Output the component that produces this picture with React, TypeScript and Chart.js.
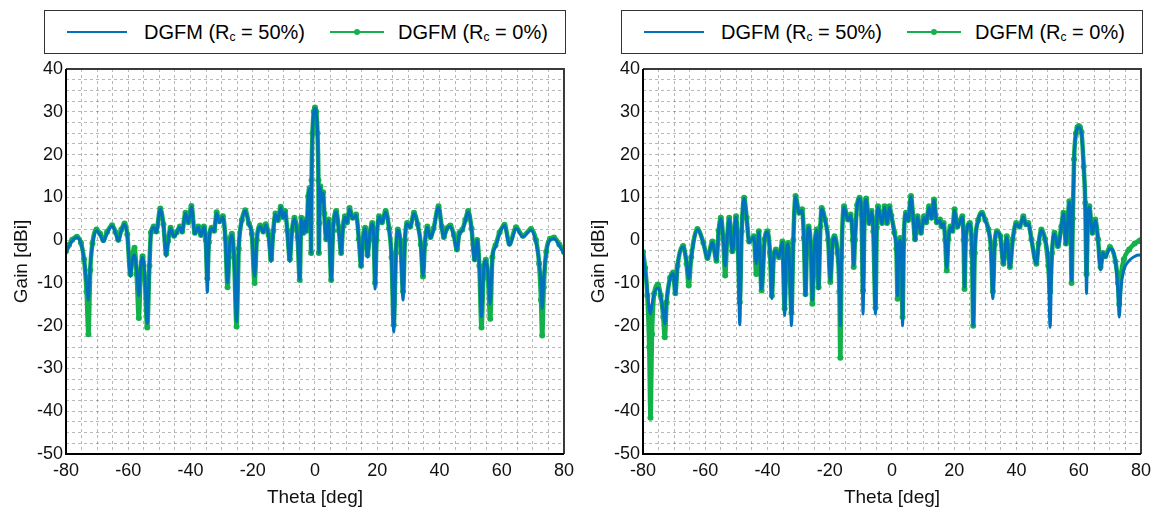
import React, { useEffect, useRef } from "react";
import { Chart, registerables } from "chart.js";

Chart.register(...registerables);

// ---- Broadside pattern (left panel) ----
const thetaBroad = [
  -80, -79, -78, -76.5, -75.2, -74.2, -73.4, -72.8, -72.2, -71.5,
  -70.2, -69, -68, -66.8, -65.2, -64, -63.2, -62.2, -61.2, -60.3,
  -59.3, -58.6, -58, -57.3, -56.6, -56, -55.4, -54.7, -53.9, -53.2,
  -52.7, -51.8, -51, -49.7, -48.7, -47.8, -47.2, -46.4, -45.3, -44.5,
  -43.4, -42.7, -41.6, -40.7, -39.7, -38.6, -37.5, -36.6, -35.7, -35.1,
  -34.6, -34.1, -33.2, -32.4, -31.6, -30.7, -29.6, -28.8, -28.1, -27.4,
  -26.7, -26, -25.2, -24.5, -23.5, -22.4, -21.2, -20.3, -19.4, -18.7,
  -17.6, -16.6, -15.8, -14.9, -14.1, -13.4, -12.7, -11.9, -11, -10.3,
  -9.6, -8.9, -8.1, -7.4, -6.6, -5.6, -4.9, -4.4, -3.7, -3.2,
  -2.7, -2.2, -1.7, -1.4, -1.25, -1.1, -0.8, -0.4, 0, 0.4,
  0.8, 1.1, 1.25, 1.4, 1.7, 2.2, 2.6, 3, 3.6, 4.4,
  5.2, 5.8, 6.8, 7.7, 8.4, 9, 9.6, 10.3, 11.1, 12.1,
  13.2, 14.1, 14.8, 15.4, 16.1, 16.9, 17.6, 18.4, 18.9, 19.3,
  19.8, 20.6, 21.5, 22.7, 23.8, 24.6, 25.3, 26, 26.6, 27.5,
  28.3, 28.9, 29.6, 30.6, 31.8, 33, 34, 34.7, 35.3, 36.1,
  37.1, 38.1, 39.7, 40.7, 41.4, 42.3, 43.5, 44.6, 45.6, 46.4,
  47.3, 48.3, 49.2, 50.3, 51.3, 52.1, 52.8, 53.5, 54.2, 54.9,
  55.6, 56.3, 57, 58, 59.3, 60.9, 62.5, 64.6, 66.8, 69.4,
  71, 72, 72.6, 73, 73.5, 74.3, 75.5, 76.8, 78.5, 80,
];
const gainBroadRc50 = [
  -3.0, -1.4, -0.2, 0.6, -0.8, -4.5, -10, -14, -6, -1,
  2.2, 1.2, -0.3, 1.6, 3.3, 1.5, -0.2, 2.2, 3.7, 1.0,
  -8.5, -4.5, -3.5, -7, -13, -6, -4, -8, -19.5, -6,
  1.5, 3.0, 1.8, 7.2, 3.5, -3.8, -0.5, 2.7, 0.8, 1.6,
  3.0, 1.8, 6.2, 4.0, 7.8, 1.5, 3.0, 1.0, 3.0, 0,
  -12.2, -1, 2.7, 2.0, 6.3, 4.2, 5.4, 0, -10, -1,
  1.2, -4, -19, -2, 4.5, 6.8, 3.6, 1.5, -8.5, 0,
  3.2, 1.8, 3.5, 1.0, -5, 2, 6.0, 4.5, 7.6, 5.2,
  6.6, 2, -5, 2, 5.0, 0.5, -9.3, 5, 1.5, 4.6,
  2, 10, 12, 4, -3, 14, 25, 30, 30.8, 30,
  25, 14, -3, 4, 12.4, 9, 11, 6, 0, 4.6,
  -9.3, 2, 6.6, 2, -3.2, 3, 5.4, 4, 7.3, 5,
  5.8, 0, -6.3, 0, 2.7, -4, 1.5, 3.8, 0, -11.4,
  0, 5.4, 4, 6.6, 2.5, -4, -21.5, -3, 2.3, -1,
  -14, 0, 3.8, 3, 6.2, 3.5, -1, -8.3, -1, 3,
  0.5, 2.5, 7.7, 3, 0.5, 2.5, 3.2, 1, -2.4, 1.5,
  2.2, 4.5, 6.6, 2.5, -4.8, 0, -6, -18, -7, -4.8,
  -8, -15, -4, -1.6, 1.5, 3.4, -1.2, 2.7, 0.7, 2.3,
  -0.5, -5, -10, -16, -9, -3, 0, 0.3, -1.3, -3.2,
];
const gainBroadRc0 = [
  -2.6, -1.1, 0.1, 0.8, -0.6, -4.5, -12, -22, -7, -0.8,
  2.5, 1.5, 0, 1.9, 3.5, 1.8, 0.1, 2.5, 3.9, 1.3,
  -8, -3.2, -1.8, -8, -18.2, -7, -3.8, -9, -20.4, -6,
  1.8, 3.2, 2.0, 7.4, 3.7, -3.2, -0.2, 2.9, 1.0, 1.8,
  3.2, 2.0, 6.4, 4.2, 8.0, 1.7, 3.2, 1.2, 3.2, 0,
  -9, -0.5, 2.9, 2.2, 6.5, 4.4, 5.6, 0.5, -11, -0.5,
  1.5, -4, -20.2, -2, 4.7, 7.0, 3.8, 1.5, -10, 0,
  3.4, 2.0, 3.7, 1.2, -4.5, 2.2, 6.2, 4.7, 7.8, 5.4,
  6.8, 2.2, -4.5, 2.2, 5.2, 0.7, -9.3, 5.2, 1.7, 4.8,
  2.2, 10.2, 12.2, 4, -3, 14, 25, 30, 31, 30,
  25, 14, -3, 4, 12.6, 9.2, 11.2, 6.2, 0.2, 4.8,
  -9.3, 2.2, 6.8, 2.2, -3, 3.2, 5.6, 4.2, 7.5, 5.2,
  6.0, 0.2, -6, 0.2, 2.9, -3.5, 1.7, 4.0, 0, -10,
  0, 5.6, 4.2, 6.8, 2.7, -4, -19.8, -3, 2.5, -1,
  -12, 0, 4.0, 3.2, 6.4, 3.7, -1, -8.5, -1, 3.2,
  0.7, 2.7, 7.9, 3.2, 0.7, 2.7, 3.4, 1.2, -2.2, 1.7,
  2.4, 4.7, 6.8, 2.7, -4.5, 0, -6, -20.4, -7, -4.6,
  -9, -18.4, -4, -1.2, 1.8, 3.6, -0.8, 3.0, 1.0, 2.6,
  0, -5.5, -14, -22.3, -11, -2.7, 0.3, 0.6, -1.0, -2.8,
];

// ---- Pattern steered to 60 deg (right panel) ----
const thetaSteered = [
  -80, -79.3, -78.6, -78, -77.6, -77.1, -76.4, -75.2, -74.3, -73.5,
  -73, -72.4, -71.3, -70.3, -69.6, -68.9, -67.1, -66, -65.3, -64.5,
  -62.5, -60.6, -59.3, -57.7, -56.4, -55.7, -55, -54.2, -53.6, -53,
  -52.3, -51.3, -50.1, -49.5, -48.9, -48.3, -47.5, -46.7, -45.9, -44.4,
  -43.6, -42.8, -41.9, -40.9, -40, -39.2, -38.6, -38, -37.3, -36.3,
  -35.2, -34.5, -33.9, -33.4, -32.9, -32.3, -31.7, -31, -29.8, -28.9,
  -28.3, -27.8, -27.3, -26.8, -26, -25.6, -24.9, -24.2, -23.6, -23,
  -22.6, -21.5, -20.5, -19.8, -19.1, -18.5, -17.5, -16.9, -16.6, -16.2,
  -15.4, -14.1, -13.3, -12.6, -12.3, -11.9, -11.2, -10.4, -9.8, -9.3,
  -8.8, -8.3, -7.3, -6.6, -6, -5.3, -4.9, -4.5, -3.2, -2.4,
  -1.6, -0.8, -0.2, 0.8, 1.4, 1.8, 2.2, 2.7, 3.1, 3.4,
  3.8, 4.5, 5.2, 6.1, 6.8, 7.4, 8.2, 9.3, 10.3, 11,
  11.9, 12.7, 13.5, 14.4, 15.4, 16, 16.6, 17.1, 17.6, 18.1,
  18.8, 19.4, 20.1, 21, 22, 22.6, 23, 23.3, 23.7, 25,
  25.7, 26.1, 26.6, 27.7, 28.9, 30, 31, 31.8, 32.4, 33,
  33.7, 34.8, 35.8, 36.9, 37.9, 38.8, 39.9, 41, 42.2, 43.1,
  43.8, 44.8, 46.4, 47.1, 48, 49.2, 50.2, 50.8, 51.4, 52.2,
  53.3, 54.4, 55.1, 55.9, 57, 57.4, 57.7, 58.1, 58.5, 59.1,
  59.6, 60, 60.4, 60.9, 61.6, 62.1, 62.5, 62.9, 63.4, 64.4,
  65.3, 66.2, 67, 67.8, 68.5, 70, 71.8, 72.6, 73, 73.6,
  74.5, 76.2, 78, 79.4, 80,
];
const gainSteeredRc50 = [
  -3.2, -7, -12, -16, -17.3, -15, -12.5, -11.2, -13, -17,
  -19.6, -14, -9, -7.8, -12.6, -6, -1.6, -5, -9, -4,
  2.4, -0.8, -4.4, -0.5, -4.8, 2, 5, 0, -6, 0,
  5, -2.8, 5.4, -2, -19.8, 2, 9.7, 5, -0.5, 0.7,
  -5.5, 1.9, -11.5, 0, 1.9, -3, -13.7, -4, -2.4, -4,
  -0.5, -17.6, -3, -0.9, -6, -20, 0, 10.1, 6.2, 7,
  0, -13, -1, 3, -3, -14, -2, 2.3, -11.4, 3,
  7.3, 4.6, 0, -9.5, -1, 0.7, -3, -10, -20, -4,
  7.7, 4.6, 5.8, 0, -6, 0, 8, 9.7, 6, -17.3,
  6, 9.5, 3.8, 6.6, 2, -17.3, 3, 7.7, 3.8, 7.7,
  3.8, 7.7, 5.5, 1.5, -2, -13, -1, 0, -6, -20,
  0, 6.2, 4.5, 10.1, 5, 0, 5.4, 1.5, 5.4, 4,
  7.7, 5, 9.3, 4, 4.6, 3, 3.8, 0, -6.5, 0,
  3, 2, 7, 3, 4.5, 5.4, 0, -11, 0, 3.8,
  -3, -20, -3, 4.5, 6.2, 4.5, 2.3, -2, -13.7, -1,
  1.9, 0.7, -5.5, 0.7, -6.3, 0, 3.8, 3, 5.4, 3.5,
  3.8, 0, -5.5, -1, 2.3, 0, -5, -20.4, -3, 1.5,
  -1.6, 3, 6.2, -1, 8.9, 2, -9.5, 5, 18.7, 24.8,
  26.2, 26.5, 26.2, 25, 17, 8.5, -12.5, 4, 7.7, 1.5,
  4.6, 0, -7, -3, -4, -2, -5, -12, -18, -11,
  -7, -4.8, -3.8, -3.5, -3.6,
];
const gainSteeredRc0 = [
  -2.8, -6.5, -13, -25, -41.5, -22, -12.5, -10.4, -13, -18,
  -22.7, -14.5, -8.8, -7.6, -12.4, -6, -1.4, -5.5, -10.6, -4,
  2.6, -0.6, -4.2, -0.3, -4.8, 2.2, 5.2, 0, -8.3, 0,
  5.2, -2.6, 5.6, -2, -14.5, 2, 9.9, 5.2, -0.3, 0.9,
  -7.9, 2.1, -11.8, 0.2, 2.1, -3, -13, -4, -2.2, -4,
  -0.3, -16, -3, -0.7, -6, -17, 0, 10.3, 6.4, 7.2,
  0.5, -12.6, -1, 3.2, -3, -14.9, -2, 2.5, -11, 3.2,
  7.5, 4.8, 0, -9.8, -0.8, 0.9, -3, -12, -27.5, -4,
  7.9, 4.8, 6.0, 0, -6.3, 0, 8.2, 9.9, 6, -11.8,
  6.2, 9.7, 4.0, 6.8, 2, -15.8, 3, 7.9, 4.0, 7.9,
  4.0, 7.9, 5.7, 1.7, -2, -13.7, -0.5, 0.5, -6, -18,
  0, 6.4, 4.7, 10.3, 5.2, 0.2, 5.6, 1.7, 5.6, 4.2,
  7.9, 5.2, 9.5, 4.2, 4.8, 3.2, 4.0, 0, -7.1, 0.2,
  3.2, 2.2, 7.2, 3.2, 4.7, 5.6, 0, -11.4, 0, 4.0,
  -3, -20, -3, 4.7, 6.4, 4.7, 2.5, -2, -12, -1,
  2.1, 0.9, -5.5, 0.9, -6.3, 0.2, 4.0, 3.2, 5.6, 3.7,
  4.0, 0.2, -5.5, -0.8, 2.5, 0.2, -6, -12, -3, 1.7,
  -1.4, 3.2, 6.4, -0.8, 9.1, 4, -10, 5, 18.9, 25,
  26.4, 26.7, 26.4, 25.2, 17.2, 8.7, -8, 4, 7.9, 1.7,
  4.8, 0.2, -6.3, -3, -3.8, -1.6, -5, -10, -15, -8,
  -4.5, -2.2, -0.8, -0.2, 0,
];

// Axis tick labels
const thetaLabels = [-80, -60, -40, -20, 0, 20, 40, 60, 80];
const gainLabels = [-50, -40, -30, -20, -10, 0, 10, 20, 30, 40];

const BLUE = "#0072BD";
const GREEN = "#14B14B";
const FONT = "'Liberation Sans', Arial, Helvetica, sans-serif";

const framePlugin = {
  id: "frame",
  afterDraw(chart: any) {
    const { ctx, chartArea } = chart;
    const { left, top, right, bottom } = chartArea;
    ctx.save();
    ctx.lineWidth = 2;
    ctx.strokeStyle = "#3a3a3a";
    ctx.beginPath();
    ctx.moveTo(left, top);
    ctx.lineTo(right, top);
    ctx.lineTo(right, bottom);
    ctx.stroke();
    ctx.strokeStyle = "#000";
    ctx.beginPath();
    ctx.moveTo(left, top);
    ctx.lineTo(left, bottom);
    ctx.lineTo(right, bottom);
    ctx.stroke();
    ctx.restore();
  },
};

function PatternChart({
  theta,
  rc50,
  rc0,
  offset,
}: {
  theta: number[];
  rc50: number[];
  rc0: number[];
  offset: number;
}) {
  const ref = useRef<HTMLCanvasElement | null>(null);

  useEffect(() => {
    if (!ref.current) return;
    const gridOpts = {
      color: "rgba(0,0,0,0.28)",
      lineWidth: 1,
      drawTicks: false,
    };
    const chart = new Chart(ref.current, {
      type: "line",
      data: {
        datasets: [
          {
            label: "DGFM (Rc = 50%)",
            data: theta.map((x, i) => ({ x, y: rc50[i] })),
            borderColor: BLUE,
            backgroundColor: BLUE,
            borderWidth: 3,
            pointRadius: 0,
            cubicInterpolationMode: "monotone",
            order: 0,
          },
          {
            label: "DGFM (Rc = 0%)",
            data: theta.map((x, i) => ({ x, y: rc0[i] })),
            borderColor: GREEN,
            backgroundColor: GREEN,
            borderWidth: 4.5,
            pointRadius: 3,
            pointBorderWidth: 0,
            pointBackgroundColor: GREEN,
            cubicInterpolationMode: "monotone",
            order: 1,
          },
        ],
      },
      options: {
        animation: false,
        responsive: false,
        maintainAspectRatio: false,
        events: [],
        layout: { padding: { left: 0, right: 11, top: 69, bottom: 0 } },
        plugins: {
          legend: { display: false },
          tooltip: { enabled: false },
        },
        scales: {
          x: {
            type: "linear",
            min: -80,
            max: 80,
            grid: gridOpts,
            border: { display: false, dash: [3, 3] },
            ticks: {
              stepSize: 5,
              autoSkip: false,
              maxRotation: 0,
              padding: 6,
              color: "#111",
              font: { family: FONT, size: 18 },
              callback: (v: any) => (thetaLabels.includes(Number(v)) ? String(v) : ""),
            },
            title: {
              display: true,
              text: "Theta [deg]",
              color: "#111",
              font: { family: FONT, size: 19 },
              padding: { top: 0, bottom: 5 },
            },
            afterFit: (s: any) => {
              s.height = 60;
            },
          },
          y: {
            type: "linear",
            min: -50,
            max: 40,
            grid: gridOpts,
            border: { display: false, dash: [3, 3] },
            ticks: {
              stepSize: 2.5,
              autoSkip: false,
              padding: 3,
              color: "#111",
              font: { family: FONT, size: 18 },
              callback: (v: any) => (gainLabels.includes(Number(v)) ? String(v) : ""),
            },
            title: {
              display: true,
              text: "Gain [dBi]",
              color: "#111",
              font: { family: FONT, size: 19 },
              padding: { top: 10, bottom: 0 },
            },
            afterFit: (s: any) => {
              s.width = 66;
            },
          },
        },
      },
      plugins: [framePlugin],
    } as any);
    return () => chart.destroy();
  }, [theta, rc50, rc0]);

  const textStyle: React.CSSProperties = {
    position: "absolute",
    top: 0,
    height: 42,
    lineHeight: "42px",
    whiteSpace: "nowrap",
    color: "#000",
  };
  const sub: React.CSSProperties = { fontSize: 12, verticalAlign: "-2px" };

  return (
    <div style={{ position: "absolute", left: offset, top: 0, width: 580, height: 514 }}>
      <canvas ref={ref} width={580} height={514} style={{ position: "absolute", left: 0, top: 0 }} />
      <div
        style={{
          position: "absolute",
          left: 44,
          top: 10,
          width: 522,
          height: 44,
          boxSizing: "border-box",
          border: "1px solid #333",
          background: "#fff",
          fontFamily: FONT,
          fontSize: 20,
        }}
      >
        <div style={{ position: "absolute", left: 22, top: 20, width: 60, height: 2, background: BLUE }} />
        <span style={{ ...textStyle, left: 99 }}>
          DGFM (R<span style={sub}>c</span> = 50%)
        </span>
        <div style={{ position: "absolute", left: 285, top: 20, width: 54, height: 2, background: GREEN }} />
        <div
          style={{
            position: "absolute",
            left: 309,
            top: 18,
            width: 6,
            height: 6,
            borderRadius: 3,
            background: GREEN,
          }}
        />
        <span style={{ ...textStyle, left: 353 }}>
          DGFM (R<span style={sub}>c</span> = 0%)
        </span>
      </div>
    </div>
  );
}

export default function App() {
  return (
    <div
      style={{
        position: "absolute",
        left: 0,
        top: 0,
        width: 1165,
        height: 514,
        background: "#fff",
        overflow: "hidden",
      }}
    >
      <PatternChart theta={thetaBroad} rc50={gainBroadRc50} rc0={gainBroadRc0} offset={0} />
      <PatternChart theta={thetaSteered} rc50={gainSteeredRc50} rc0={gainSteeredRc0} offset={577} />
    </div>
  );
}
